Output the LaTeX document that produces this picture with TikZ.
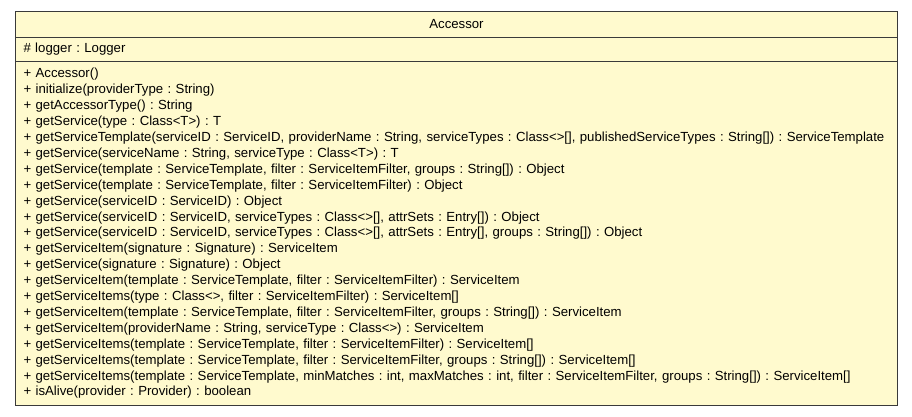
\documentclass[tikz,border=0pt]{standalone}
\usepackage{fontspec}
\setmainfont{Liberation Sans}
\usepackage{xcolor}
\usepackage{tikz}
\usetikzlibrary{positioning}

\definecolor{umlfill}{RGB}{255,250,206}
\definecolor{umlline}{RGB}{58,58,58}

\begin{document}
\frenchspacing
\begin{tikzpicture}[
  x=1pt, y=1pt, node distance=0pt,
  part/.style={draw=umlline, fill=umlfill, line width=0.9pt, minimum width=882pt,
               inner xsep=8pt, inner ysep=0pt, outer sep=0pt},
  listing/.style={part, text width=866pt, align=left,
                  font=\fontsize{13.2}{15.9}\selectfont},
  font=\fontsize{13.2}{15.9}\selectfont]
  \useasboundingbox (0,0) rectangle (912,-416);

  \node[part, anchor=north west, minimum height=26pt] (title) at (15.5,-11.5) {Accessor};
  \node[listing, below=of title, minimum height=24pt] (fields) {\# logger : Logger};
  \node[listing, below=of fields, minimum height=344pt] (methods) {%
    + Accessor()\\
    + initialize(providerType : String)\\
    + getAccessorType() : String\\
    + getService(type : Class<T>) : T\\
    + getServiceTemplate(serviceID : ServiceID, providerName : String, serviceTypes : Class<>[], publishedServiceTypes : String[]) : ServiceTemplate\\
    + getService(serviceName : String, serviceType : Class<T>) : T\\
    + getService(template : ServiceTemplate, filter : ServiceItemFilter, groups : String[]) : Object\\
    + getService(template : ServiceTemplate, filter : ServiceItemFilter) : Object\\
    + getService(serviceID : ServiceID) : Object\\
    + getService(serviceID : ServiceID, serviceTypes : Class<>[], attrSets : Entry[]) : Object\\
    + getService(serviceID : ServiceID, serviceTypes : Class<>[], attrSets : Entry[], groups : String[]) : Object\\
    + getServiceItem(signature : Signature) : ServiceItem\\
    + getService(signature : Signature) : Object\\
    + getServiceItem(template : ServiceTemplate, filter : ServiceItemFilter) : ServiceItem\\
    + getServiceItems(type : Class<>, filter : ServiceItemFilter) : ServiceItem[]\\
    + getServiceItem(template : ServiceTemplate, filter : ServiceItemFilter, groups : String[]) : ServiceItem\\
    + getServiceItem(providerName : String, serviceType : Class<>) : ServiceItem\\
    + getServiceItems(template : ServiceTemplate, filter : ServiceItemFilter) : ServiceItem[]\\
    + getServiceItems(template : ServiceTemplate, filter : ServiceItemFilter, groups : String[]) : ServiceItem[]\\
    + getServiceItems(template : ServiceTemplate, minMatches : int, maxMatches : int, filter : ServiceItemFilter, groups : String[]) : ServiceItem[]\\
    + isAlive(provider : Provider) : boolean};
\end{tikzpicture}
\end{document}
